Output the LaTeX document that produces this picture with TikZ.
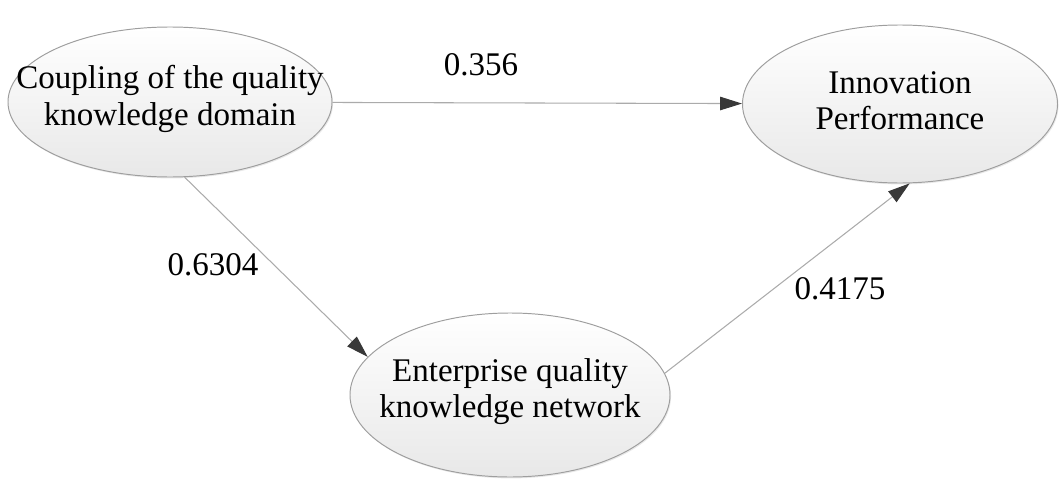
\documentclass[tikz,border=0pt]{standalone}
\usepackage{fontspec}
\setmainfont{Liberation Serif}
\usetikzlibrary{arrows.meta,shadows,shapes.geometric}

\begin{document}
\begin{tikzpicture}[
            bubble/.style={
                draw=black!38, line width=0.55pt, ellipse,
                top color=white, bottom color=black!9,
                drop shadow={opacity=0.18, shadow xshift=0.6pt, shadow yshift=-0.8pt}
            },
            bubtext/.style={
                align=center, font=\fontsize{18.8}{20.6}\selectfont, inner sep=0pt
            },
            weight/.style={
                font=\fontsize{18.8}{20.6}\selectfont, inner sep=0pt
            },
            linkarrow/.style={
                draw=black!33, line width=0.6pt,
                -{Triangle[length=0.44cm, width=0.27cm, color=black!78]}
            }
        ]
        \useasboundingbox (0, 0) rectangle (21.18, -9.64);
        \node[bubble, minimum width=6.48cm, minimum height=3.0cm] (cpl) at (3.4, -2.04) {};
        \node[bubble, minimum width=6.3cm, minimum height=3.16cm] (inno) at (18.0, -2.08) {};
        \node[bubble, minimum width=6.4cm, minimum height=3.28cm] (net) at (10.2, -7.9) {};
        \node[bubtext] (cpltext) at (3.4, -1.98) {Coupling of the quality\\knowledge domain};
        \node[bubtext] (innotext) at (18.0, -2.02) {Innovation\\Performance};
        \node[bubtext] (nettext) at (10.2, -7.84) {Enterprise quality\\knowledge network};

        % edges
        \draw[linkarrow] (cpl) -- (inno);
        \draw[linkarrow] (cpl.-79) -- (net.165);
        \draw[linkarrow] (net.8) -- (inno.-83);

        % weights
        \node[weight] (w1) at (9.62, -1.3) {0.356};
        \node[weight] (w2) at (4.26, -5.3) {0.6304};
        \node[weight] (w3) at (16.8, -5.78) {0.4175};
\end{tikzpicture}
\end{document}
